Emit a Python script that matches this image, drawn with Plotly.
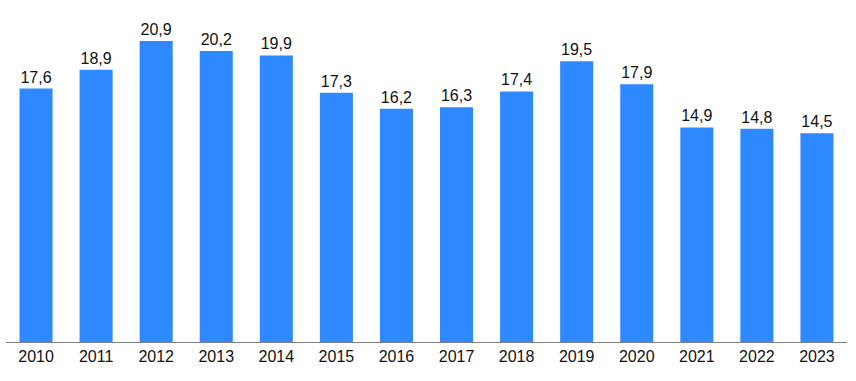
import plotly.graph_objects as go

years = ["2010", "2011", "2012", "2013", "2014", "2015", "2016", "2017", "2018", "2019", "2020", "2021", "2022", "2023"]
values = [17.6, 18.9, 20.9, 20.2, 19.9, 17.3, 16.2, 16.3, 17.4, 19.5, 17.9, 14.9, 14.8, 14.5]
labels = [f"{v:.1f}".replace(".", ",") for v in values]

fig = go.Figure(go.Bar(
    x=years, y=values, text=labels, textposition="outside",
    constraintext="none",
    marker=dict(color="#2E88FF", line=dict(width=0)),
    textfont=dict(family="Liberation Sans, Arial", size=16, color="#111111"),
    cliponaxis=False, hoverinfo="skip",
))
fig.update_layout(
    width=856, height=381,
    margin=dict(l=6, r=9, t=20, b=39),
    plot_bgcolor="white", paper_bgcolor="white",
    bargap=0.45, showlegend=False,
    font=dict(family="Liberation Sans, Arial", size=16, color="#111111"),
)
fig.update_xaxes(showline=True, linecolor="#808080", linewidth=1, ticks="", showgrid=False,
                 tickfont=dict(size=16, color="#111111"))
fig.update_yaxes(visible=False, range=[0, 22.36], showgrid=False)
fig.write_html("out.html", config={"displayModeBar": False},
               post_script="document.body.style.margin='0';")
